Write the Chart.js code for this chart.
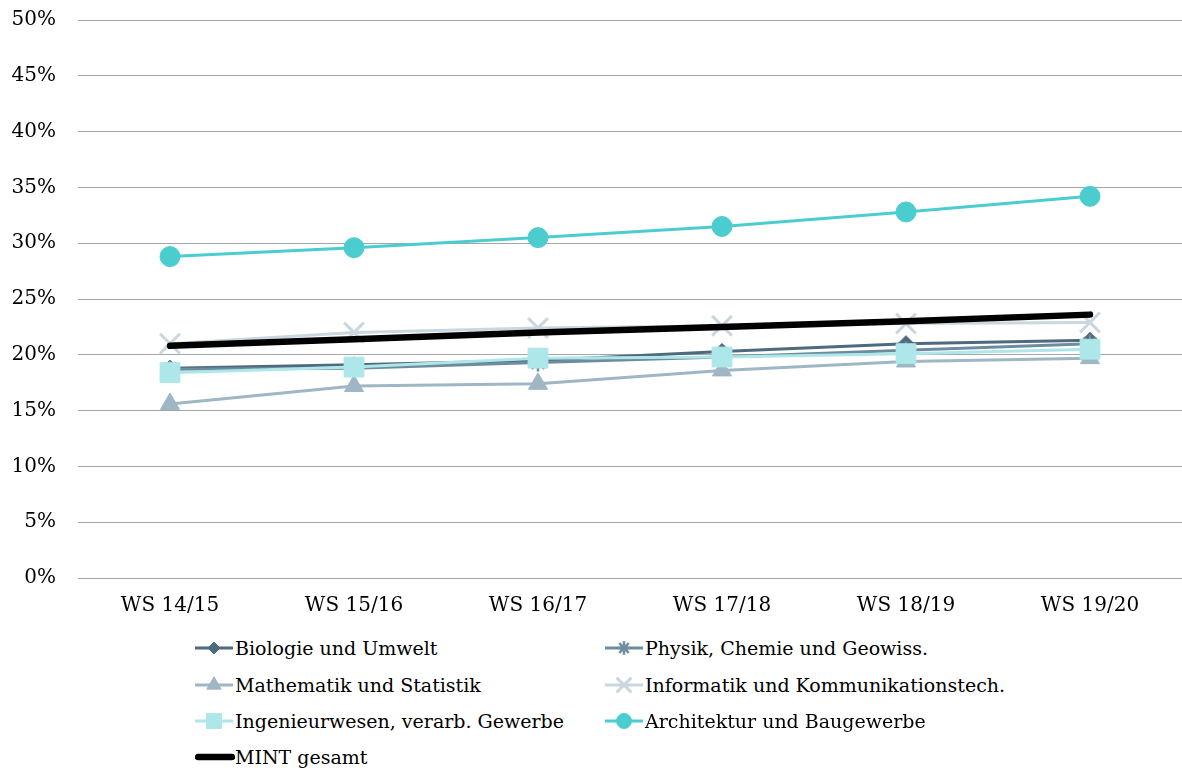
<!DOCTYPE html>
<html>
<head>
<meta charset="utf-8">
<script src="https://cdn.jsdelivr.net/npm/chart.js@4"></script>
<style>
  html, body { margin: 0; padding: 0; background: #fff; overflow: hidden; }
  #wrap { position: relative; width: 1182px; height: 772px; overflow: hidden; }
  #c { position: absolute; left: 0; top: 0; width: 1182px; height: 630px; }
  #legend { position: absolute; left: 0; top: 630px; width: 1182px; height: 142px;
            font-family: "DejaVu Serif", serif; font-size: 19px; color: #000; }
  .item { position: absolute; height: 36px; display: flex; align-items: center; white-space: nowrap; }
  .item canvas { width: 40px; height: 28px; margin-right: 0px; }
</style>
</head>
<body>
<div id="wrap">
  <canvas id="c" width="1182" height="630"></canvas>
  <div id="legend"></div>
</div>
<script>
const categories = ["WS 14/15", "WS 15/16", "WS 16/17", "WS 17/18", "WS 18/19", "WS 19/20"];
const biologie    = [18.8, 19.1, 19.5, 20.3, 21.0, 21.3];
const physik      = [18.7, 18.8, 19.3, 19.8, 20.4, 21.0];
const mathematik  = [15.6, 17.2, 17.4, 18.6, 19.4, 19.7];
const informatik  = [21.0, 22.0, 22.4, 22.6, 22.8, 22.9];
const ingenieur   = [18.4, 18.9, 19.7, 19.8, 20.1, 20.5];
const architektur = [28.8, 29.6, 30.5, 31.5, 32.8, 34.2];
const mint        = [20.8, 21.4, 22.0, 22.5, 23.0, 23.6];
const yTicks = [0, 5, 10, 15, 20, 25, 30, 35, 40, 45, 50];

const FONT = '"DejaVu Serif", serif';

const series = [
  { label: "Biologie und Umwelt", data: biologie, color: "#4E6A7E", style: "rectRot", radius: 8, bw: 1, lw: 3, order: 6 },
  { label: "Physik, Chemie und Geowiss.", data: physik, color: "#6E8CA0", style: "star", radius: 9, bw: 2.5, lw: 3, order: 5 },
  { label: "Mathematik und Statistik", data: mathematik, color: "#9FB6C4", style: "triangle", radius: 11, bw: 1, lw: 3, order: 4 },
  { label: "Informatik und Kommunikationstech.", data: informatik, color: "#CAD7DF", style: "crossRot", radius: 14, bw: 3, lw: 3, order: 3 },
  { label: "Ingenieurwesen, verarb. Gewerbe", data: ingenieur, color: "#AEE7E9", style: "rect", radius: 14, bw: 1, lw: 3, order: 2 },
  { label: "Architektur und Baugewerbe", data: architektur, color: "#4BCDD0", style: "circle", radius: 10, bw: 1, lw: 3, order: 1 },
  { label: "MINT gesamt", data: mint, color: "#000000", style: false, radius: 0, bw: 0, lw: 6.5, order: 0 }
];

const datasets = series.map(s => ({
  label: s.label,
  data: s.data,
  borderColor: s.color,
  backgroundColor: s.color,
  borderWidth: s.lw,
  borderCapStyle: s.style === false ? "round" : "butt",
  pointStyle: s.style,
  pointRadius: s.radius,
  pointHoverRadius: s.radius,
  pointBorderWidth: s.bw,
  pointBackgroundColor: s.color,
  pointBorderColor: s.color,
  tension: 0,
  order: s.order
}));

new Chart(document.getElementById("c"), {
  type: "line",
  data: { labels: categories, datasets },
  options: {
    responsive: false,
    animation: false,
    layout: { autoPadding: false, padding: { top: 20, left: 0, right: -3, bottom: 0 } },
    plugins: { legend: { display: false }, tooltip: { enabled: false } },
    scales: {
      x: {
        offset: true,
        grid: { display: false, drawTicks: false },
        border: { display: false },
        ticks: { color: "#000", font: { family: FONT, size: 20 }, padding: 16, maxRotation: 0 },
        afterFit: (s) => { s.height = 52; s.paddingLeft = 0; s.paddingRight = 0; }
      },
      y: {
        min: 0, max: 50,
        afterBuildTicks: (s) => { s.ticks = yTicks.map(v => ({ value: v })); },
        grid: { color: "#A6A6A6", lineWidth: 1, drawTicks: false },
        border: { display: false },
        ticks: { color: "#000", font: { family: FONT, size: 20 }, padding: 22, callback: v => v + "%" },
        afterFit: (s) => { s.width = 78; s.paddingTop = 0; s.paddingBottom = 0; }
      }
    }
  }
});

// Legend
const legend = document.getElementById("legend");
const positions = [
  [195, 0], [605, 0],
  [195, 1], [605, 1],
  [195, 2], [605, 2],
  [195, 3]
];
const rowY = [0, 37, 73, 109];
series.forEach((s, i) => {
  const div = document.createElement("div");
  div.className = "item";
  div.style.left = positions[i][0] + "px";
  div.style.top = rowY[positions[i][1]] + "px";
  const cv = document.createElement("canvas");
  cv.width = 40; cv.height = 28;
  const ctx = cv.getContext("2d");
  ctx.strokeStyle = s.color;
  ctx.fillStyle = s.color;
  ctx.lineWidth = s.lw;
  ctx.lineCap = s.style === false ? "round" : "butt";
  ctx.beginPath();
  if (s.style === false) { ctx.moveTo(3, 14); ctx.lineTo(37, 14); }
  else { ctx.moveTo(0, 14); ctx.lineTo(38, 14); }
  ctx.stroke();
  if (s.style) {
    ctx.lineWidth = s.bw;
    Chart.helpers.drawPoint(ctx, { pointStyle: s.style, radius: s.radius * 0.75, rotation: 0, borderWidth: s.bw }, 19, 14);
  }
  div.appendChild(cv);
  const span = document.createElement("span");
  span.textContent = s.label;
  div.appendChild(span);
  legend.appendChild(div);
});
</script>
</body>
</html>
